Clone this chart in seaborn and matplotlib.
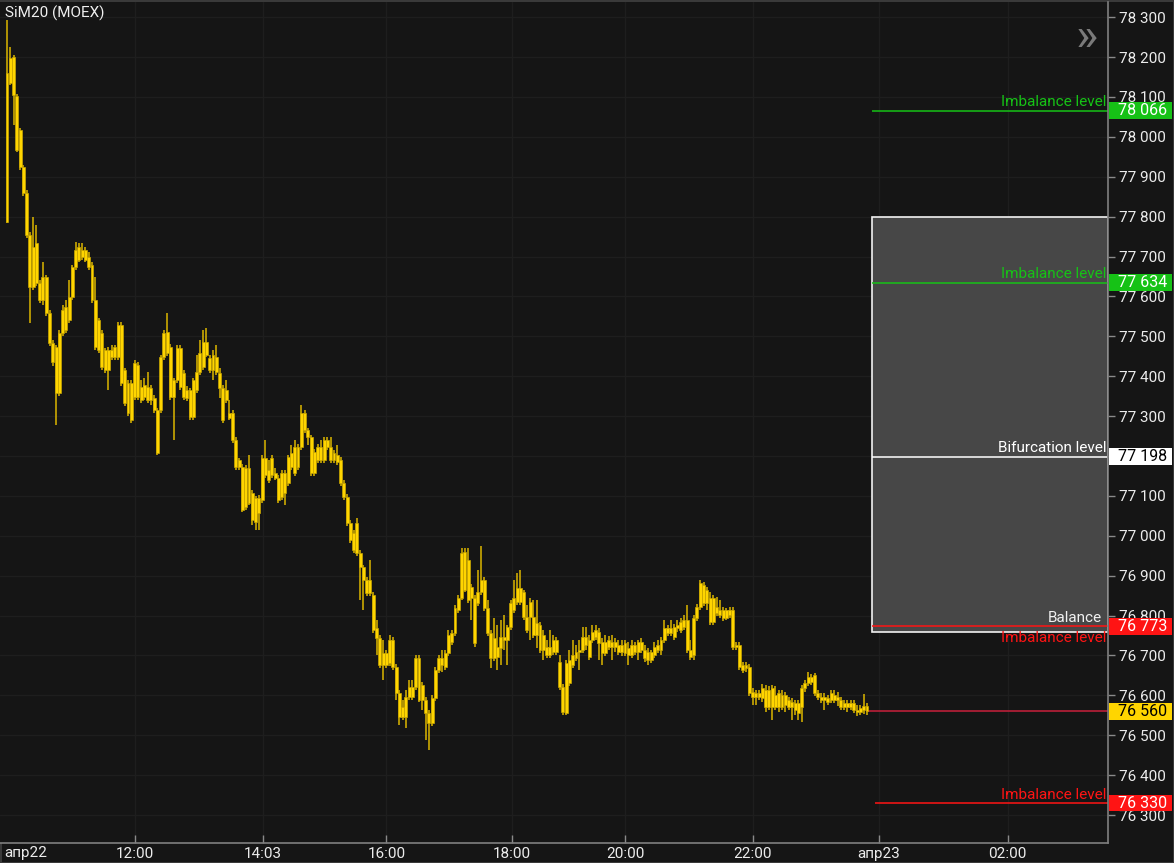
import numpy as np
import matplotlib
matplotlib.use("Agg")
import matplotlib.pyplot as plt
import matplotlib.transforms as mtransforms
from matplotlib.patches import Rectangle
import seaborn as sns

# 3-minute candles SiM20, 22 Apr (price, RUB)
opens = [
    77787, 78135, 78200, 78102, 78017, 77924, 77859, 77754, 77624, 77734,
    77634, 77591, 77649, 77559, 77483, 77473, 77358, 77508, 77516, 77541,
    77599, 77674, 77691, 77717, 77691, 77699, 77679, 77591, 77541, 77508,
    77466, 77416, 77466, 77448, 77448, 77529, 77416, 77383, 77290, 77348,
    77428, 77373, 77348, 77373, 77341, 77346, 77315, 77315, 77448, 77458,
    77473, 77348, 77391, 77471, 77408, 77366, 77366, 77298, 77366, 77411,
    77423, 77453, 77446, 77416, 77448, 77408, 77371, 77341, 77308, 77308,
    77240, 77190, 77173, 77072, 77170, 77107, 77095, 77057, 77090, 77195,
    77165, 77153, 77158, 77145, 77097, 77158, 77133, 77173, 77158, 77223,
    77223, 77308, 77265, 77248, 77158, 77190, 77223, 77190, 77240, 77223,
    77190, 77203, 77190, 77133, 77097, 77032, 77007, 77032, 76957, 76922,
    76890, 76857, 76852, 76769, 76744, 76677, 76707, 76682, 76739, 76672,
    76606, 76546, 76546, 76596, 76621, 76621, 76694, 76589, 76589, 76556,
    76531, 76594, 76664, 76694, 76672, 76707, 76734, 76757, 76814, 76844,
    76960, 76940, 76844, 76844, 76832, 76859, 76890, 76819, 76757, 76744,
    76697, 76719, 76739, 76739, 76772, 76814, 76834, 76870, 76859, 76797,
    76797, 76797, 76752, 76777, 76714, 76702, 76722, 76709, 76739, 76684,
    76621, 76556, 76631, 76677, 76694, 76709, 76714, 76747, 76697, 76739,
    76747, 76759, 76734, 76707, 76739, 76734, 76722, 76727, 76709, 76732,
    76719, 76702, 76727, 76709, 76734, 76714, 76709, 76689, 76702, 76714,
    76714, 76739, 76757, 76757, 76747, 76769, 76764, 76772, 76789, 76714,
    76702, 76794, 76822, 76877, 76864, 76844, 76784, 76822, 76814, 76794,
    76814, 76802, 76814, 76727, 76727, 76677, 76677, 76672, 76609, 76596,
    76606, 76594, 76614, 76571, 76619, 76571, 76606, 76571, 76601, 76589,
    76571, 76581, 76581, 76571, 76619, 76631, 76646, 76651, 76606, 76596,
    76589, 76594, 76589, 76601, 76589, 76589, 76571, 76581, 76571, 76581,
    76564, 76569, 76564, 76574,
]
closes = [
    78160, 78198, 78105, 77967, 77924, 77859, 77754, 77624, 77724, 77634,
    77591, 77649, 77559, 77483, 77436, 77358, 77508, 77566, 77574, 77599,
    77674, 77717, 77724, 77699, 77717, 77674, 77591, 77473, 77466, 77423,
    77416, 77466, 77448, 77473, 77529, 77383, 77333, 77308, 77383, 77433,
    77348, 77341, 77378, 77341, 77371, 77315, 77208, 77448, 77508, 77511,
    77348, 77391, 77471, 77373, 77348, 77346, 77298, 77391, 77411, 77458,
    77486, 77486, 77416, 77453, 77411, 77371, 77290, 77366, 77295, 77240,
    77173, 77173, 77065, 77170, 77082, 77040, 77035, 77095, 77195, 77153,
    77140, 77195, 77145, 77090, 77158, 77107, 77198, 77208, 77223, 77173,
    77308, 77265, 77248, 77158, 77210, 77223, 77190, 77240, 77223, 77190,
    77208, 77185, 77133, 77097, 77032, 76990, 76965, 76957, 76922, 76890,
    76857, 76890, 76764, 76744, 76677, 76707, 76677, 76739, 76672, 76606,
    76546, 76571, 76596, 76621, 76596, 76694, 76589, 76626, 76556, 76531,
    76594, 76664, 76694, 76677, 76707, 76752, 76757, 76819, 76844, 76957,
    76864, 76839, 76872, 76732, 76859, 76890, 76819, 76757, 76694, 76694,
    76722, 76747, 76747, 76772, 76832, 76844, 76870, 76834, 76797, 76764,
    76834, 76752, 76782, 76714, 76752, 76722, 76702, 76739, 76709, 76621,
    76559, 76682, 76689, 76702, 76709, 76714, 76747, 76727, 76739, 76759,
    76764, 76732, 76707, 76734, 76722, 76722, 76734, 76709, 76727, 76707,
    76702, 76727, 76709, 76734, 76714, 76694, 76689, 76709, 76722, 76727,
    76739, 76769, 76769, 76769, 76772, 76777, 76784, 76789, 76714, 76697,
    76794, 76822, 76882, 76832, 76832, 76784, 76844, 76807, 76802, 76814,
    76794, 76814, 76722, 76722, 76672, 76664, 76669, 76606, 76596, 76606,
    76596, 76619, 76571, 76614, 76571, 76601, 76571, 76601, 76576, 76571,
    76584, 76564, 76556, 76619, 76631, 76646, 76634, 76606, 76596, 76589,
    76596, 76584, 76606, 76589, 76596, 76571, 76581, 76571, 76581, 76564,
    76559, 76559, 76574, 76560,
]
highs = [
    78293, 78225, 78205, 78107, 78022, 77929, 77867, 77762, 77799, 77779,
    77641, 77686, 77654, 77566, 77491, 77478, 77516, 77579, 77591, 77641,
    77679, 77737, 77734, 77734, 77724, 77712, 77686, 77649, 77546, 77516,
    77471, 77473, 77478, 77478, 77536, 77536, 77421, 77391, 77391, 77441,
    77436, 77391, 77396, 77411, 77378, 77353, 77321, 77453, 77516, 77559,
    77481, 77396, 77478, 77478, 77416, 77376, 77371, 77396, 77453, 77491,
    77516, 77521, 77453, 77466, 77478, 77421, 77378, 77391, 77341, 77315,
    77248, 77195, 77180, 77178, 77203, 77115, 77100, 77102, 77203, 77240,
    77190, 77203, 77170, 77153, 77165, 77165, 77203, 77228, 77240, 77230,
    77328, 77315, 77270, 77253, 77218, 77230, 77240, 77248, 77248, 77248,
    77215, 77228, 77198, 77140, 77105, 77040, 77015, 77045, 76965, 76927,
    76897, 76940, 76859, 76789, 76752, 76739, 76714, 76752, 76747, 76679,
    76614, 76589, 76614, 76639, 76639, 76702, 76702, 76634, 76596, 76564,
    76601, 76672, 76702, 76714, 76714, 76764, 76764, 76827, 76852, 76970,
    76970, 76970, 76879, 76852, 76915, 76975, 76897, 76839, 76764, 76794,
    76777, 76789, 76802, 76777, 76839, 76890, 76907, 76915, 76864, 76827,
    76844, 76839, 76839, 76784, 76764, 76739, 76764, 76752, 76747, 76702,
    76629, 76689, 76714, 76739, 76727, 76739, 76772, 76772, 76752, 76777,
    76777, 76769, 76744, 76752, 76749, 76752, 76744, 76739, 76739, 76739,
    76734, 76739, 76734, 76739, 76744, 76727, 76719, 76714, 76734, 76739,
    76747, 76789, 76777, 76789, 76779, 76789, 76794, 76802, 76827, 76739,
    76802, 76829, 76890, 76884, 76872, 76859, 76852, 76847, 76839, 76822,
    76819, 76822, 76822, 76734, 76734, 76684, 76684, 76679, 76619, 76614,
    76614, 76629, 76626, 76624, 76626, 76624, 76614, 76614, 76609, 76596,
    76594, 76589, 76589, 76626, 76639, 76659, 76654, 76656, 76614, 76606,
    76606, 76601, 76614, 76614, 76609, 76596, 76589, 76589, 76589, 76589,
    76576, 76576, 76604, 76581,
]
lows = [
    77785, 78130, 78030, 77962, 77917, 77852, 77747, 77534, 77616, 77626,
    77584, 77579, 77551, 77476, 77426, 77278, 77351, 77501, 77508, 77534,
    77591, 77666, 77686, 77691, 77686, 77666, 77584, 77466, 77458, 77416,
    77408, 77366, 77441, 77441, 77441, 77376, 77326, 77300, 77283, 77341,
    77341, 77333, 77341, 77333, 77328, 77308, 77203, 77308, 77441, 77451,
    77341, 77240, 77383, 77366, 77341, 77338, 77290, 77290, 77358, 77403,
    77416, 77448, 77408, 77391, 77403, 77346, 77283, 77333, 77290, 77233,
    77165, 77165, 77060, 77065, 77077, 77027, 77015, 77015, 77082, 77145,
    77133, 77145, 77140, 77082, 77090, 77077, 77125, 77165, 77150, 77165,
    77215, 77258, 77228, 77150, 77150, 77183, 77183, 77183, 77215, 77183,
    77183, 77178, 77125, 77090, 77025, 76982, 76957, 76950, 76839, 76814,
    76849, 76849, 76757, 76702, 76669, 76639, 76669, 76674, 76664, 76589,
    76526, 76539, 76519, 76589, 76589, 76614, 76584, 76564, 76489, 76463,
    76524, 76586, 76656, 76659, 76664, 76699, 76727, 76749, 76807, 76839,
    76859, 76832, 76789, 76722, 76824, 76852, 76812, 76749, 76669, 76686,
    76664, 76677, 76714, 76677, 76764, 76807, 76827, 76827, 76789, 76757,
    76739, 76744, 76719, 76707, 76689, 76694, 76694, 76702, 76702, 76614,
    76551, 76551, 76624, 76669, 76686, 76664, 76707, 76714, 76689, 76732,
    76739, 76689, 76677, 76699, 76714, 76689, 76709, 76702, 76699, 76699,
    76677, 76694, 76702, 76689, 76707, 76684, 76677, 76682, 76694, 76707,
    76702, 76732, 76749, 76749, 76739, 76759, 76757, 76764, 76707, 76689,
    76689, 76787, 76814, 76824, 76814, 76777, 76777, 76799, 76794, 76787,
    76789, 76794, 76714, 76714, 76664, 76656, 76659, 76599, 76576, 76576,
    76589, 76584, 76559, 76564, 76539, 76564, 76559, 76564, 76559, 76564,
    76539, 76551, 76539, 76534, 76609, 76624, 76626, 76599, 76589, 76581,
    76564, 76576, 76581, 76581, 76574, 76564, 76564, 76559, 76564, 76556,
    76549, 76551, 76554, 76551,
]

# time axis (candle number -> label)
tick_pos = [39, 78.3, 116, 154.4, 189, 228, 266.7, 306]
tick_lbl = ["12:00", "14:03", "16:00", "18:00", "20:00", "22:00", "апр23", "02:00"]
y_ticks = list(range(76300, 78301, 100))

# levels drawn on the right
lvl_price = [78066, 77634, 77198, 76773, 76330]
lvl_text = ["Imbalance level", "Imbalance level", "Bifurcation level", "Imbalance level", "Imbalance level"]
lvl_kind = ["green", "green", "white", "red", "red"]
balance_top = 77800
balance_bot = 76760
last_price = 76560

BG = "#151515"
YEL = "#ffd500"
GREEN = "#16c216"
RED = "#ff1414"
col = {"green": GREEN, "white": "#ffffff", "red": RED}

sns.set_theme(style="dark")
plt.rcParams["font.family"] = ["Roboto", "DejaVu Sans"]

W, H = 1174, 863
fig = plt.figure(figsize=(W / 100, H / 100), dpi=100, facecolor=BG)
ax = fig.add_axes([0, 20 / H, 1108 / W, 841 / H])
ax.set_facecolor(BG)

x = np.arange(len(opens))
o = np.array(opens)
c = np.array(closes)
body_lo = np.minimum(o, c)
body_h = np.maximum(np.abs(c - o), 3)

ax.vlines(x, lows, highs, color="#dcb600", lw=1.1, zorder=3)
ax.bar(x, body_h, bottom=body_lo, width=0.9, color=YEL, edgecolor="#c9a600",
       linewidth=0.5, zorder=4)

x0, x1 = -2.14, 336.7
ax.set_xlim(x0, x1)
ax.set_ylim(76230, 78338)

# balance zone
zone_x = 264.5
ax.add_patch(Rectangle((zone_x, balance_bot), x1 - zone_x, balance_top - balance_bot,
                       facecolor="#474747", edgecolor="#f2f2f2", lw=1.2, zorder=1))

xr = 336.1
for p, t, k in zip(lvl_price, lvl_text, lvl_kind):
    start = 265.4 if p < last_price else zone_x
    ax.hlines(p, start, x1, color=col[k], lw=1.1, zorder=2)
    if k == "red" and p > last_price:
        ax.text(xr, p - 40, t, color=RED, fontsize=11, ha="right", va="baseline", zorder=5)
    else:
        ax.text(xr, p + 11, t, color=col[k], fontsize=11, ha="right", va="baseline", zorder=5)
ax.text(334.8, lvl_price[3] + 12, "Balance", color="#f0f0f0", fontsize=11,
        ha="right", va="baseline", zorder=5)
ax.hlines(last_price, 263.3, x1, color="#c8203c", lw=1.1, zorder=2)

# axes styling
ax.yaxis.tick_right()
ax.set_yticks(y_ticks)
ax.set_yticklabels([f"{v:,}".replace(",", " ") for v in y_ticks])
ax.set_xticks(tick_pos)
ax.set_xticklabels(tick_lbl)
ax.tick_params(axis="y", direction="out", length=5, width=1, pad=3, color="#8a8a8a",
               labelcolor="#ececec", labelsize=11, right=True, left=False)
ax.tick_params(axis="x", direction="in", length=6, width=1, pad=3, color="#8a8a8a",
               labelcolor="#ececec", labelsize=11, bottom=True)
ax.grid(True, color="#1e1e1e", lw=1)
for s in ["top", "left"]:
    ax.spines[s].set_visible(False)
for s in ["right", "bottom"]:
    ax.spines[s].set_visible(True)
    ax.spines[s].set_color("#7f7f7f")
    ax.spines[s].set_linewidth(1.2)

fig.text(4 / W, 1 - 853 / H, "апр22", color="#ececec", fontsize=11, ha="left", va="center")
fig.text(5 / W, 1 - 13 / H, "SiM20 (MOEX)", color="#f0f0f0", fontsize=11, ha="left", va="center")
fig.text(1087 / W, 1 - 37 / H, "»", color="#7a7a7a", fontsize=34, ha="center", va="center")

# price tags on the scale
trans = mtransforms.blended_transform_factory(fig.transFigure, ax.transData)
tags = list(zip(lvl_price, lvl_kind)) + [(last_price, "yellow")]
for p, k in tags:
    fc = {"green": GREEN, "white": "#ffffff", "red": RED, "yellow": YEL}[k]
    tc = "black" if k in ("white", "yellow") else "white"
    fig.add_artist(Rectangle((1109 / W, p - 21), 63 / W, 42, transform=trans,
                             facecolor=fc, edgecolor="none", zorder=6))
    fig.text(1118 / W, p, f"{p:,}".replace(",", " "), transform=trans, color=tc,
             fontsize=11.5, ha="left", va="center", zorder=7)

fig.patch.set_edgecolor("#3a3a3a")
fig.patch.set_linewidth(2)
fig.savefig("out.png", dpi=100, facecolor=BG, edgecolor="#3a3a3a")
